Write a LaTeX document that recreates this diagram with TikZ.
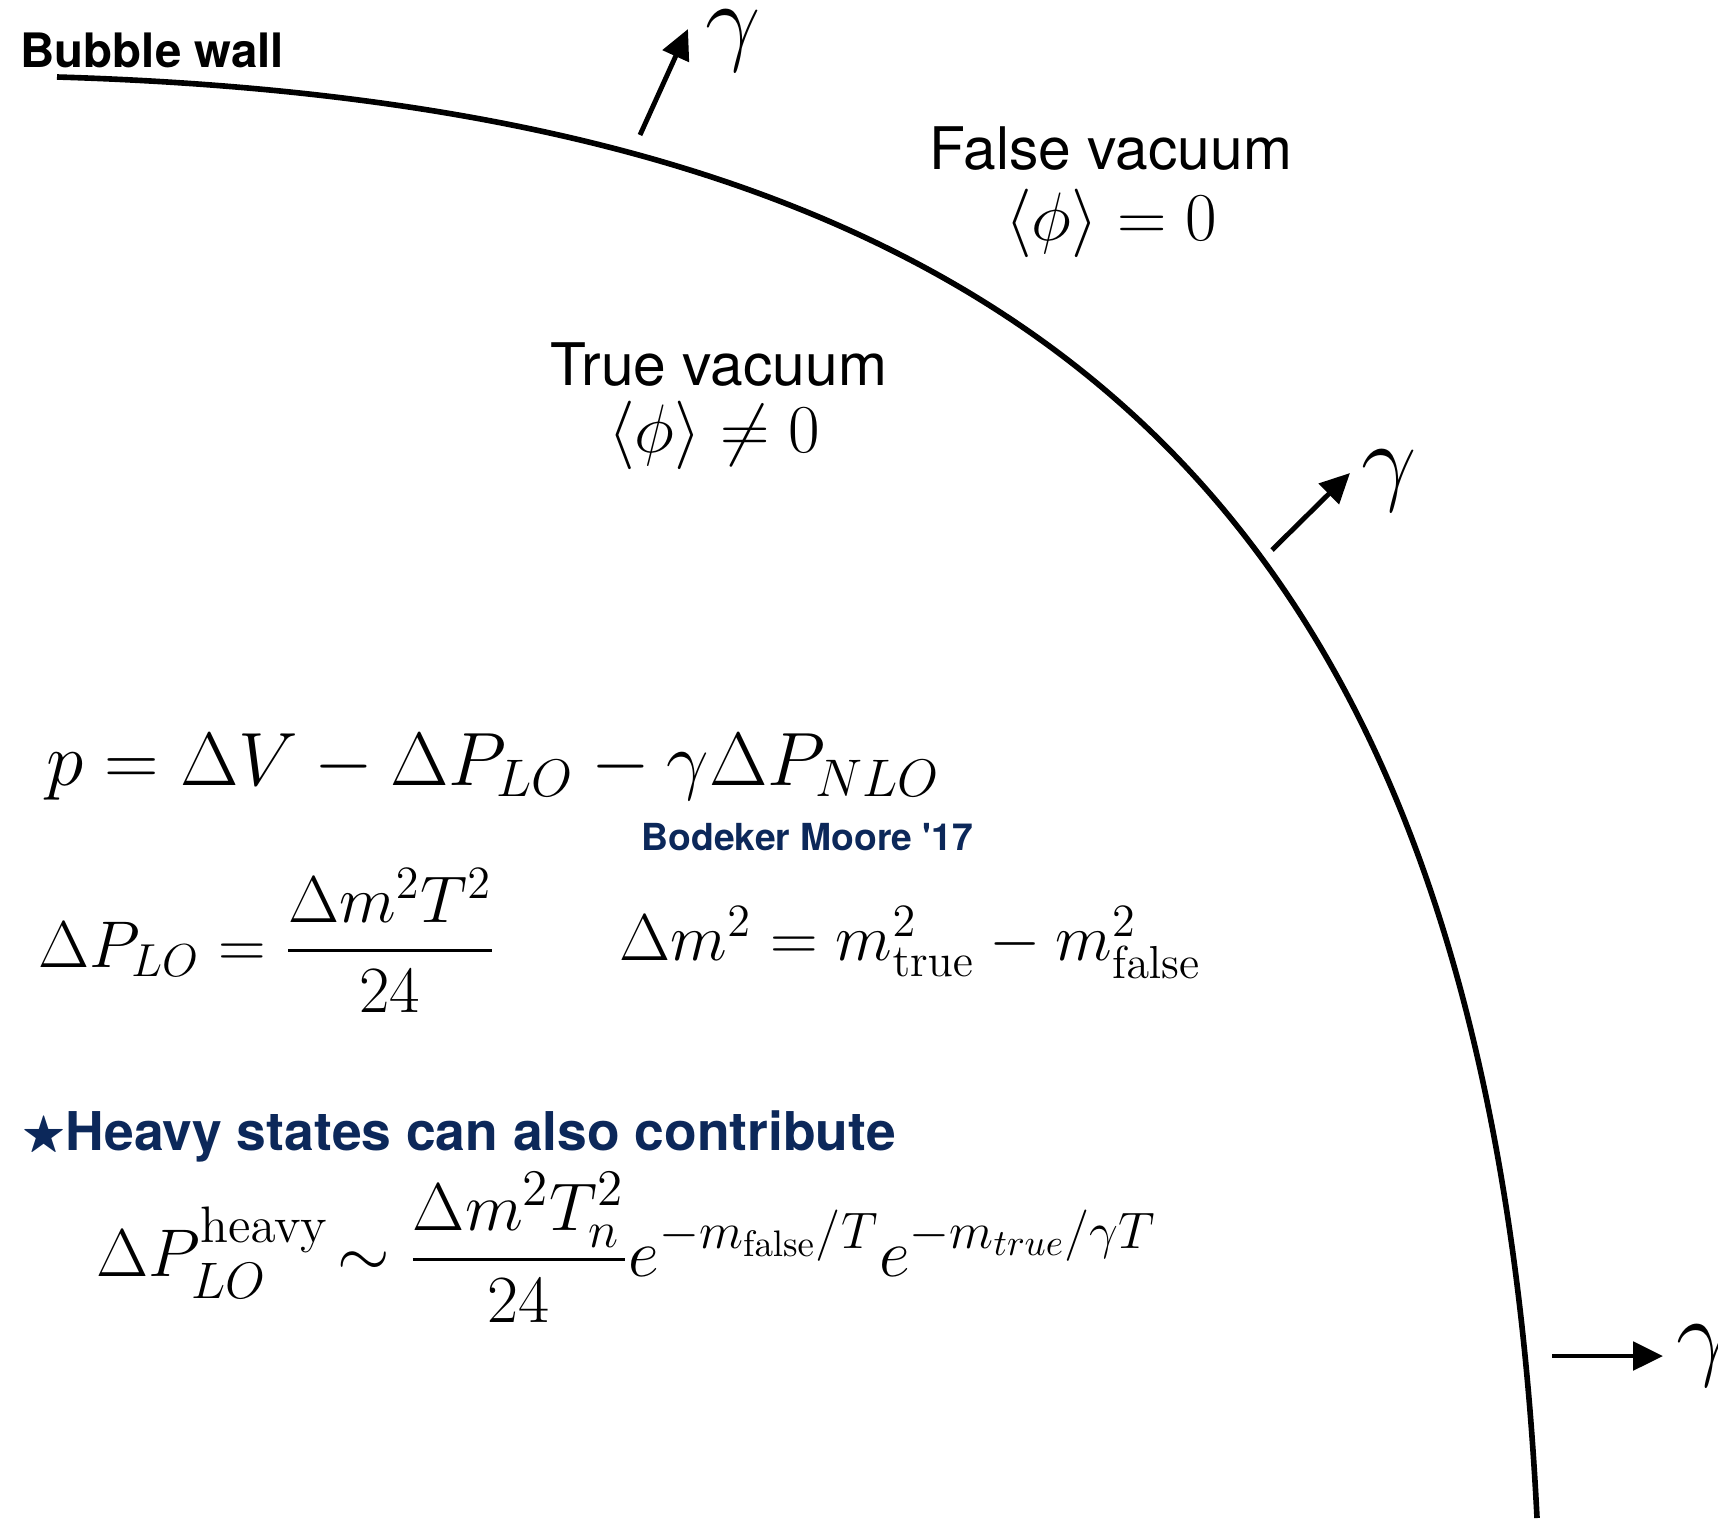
\RequirePackage{fix-cm}
\documentclass[tikz,border=0pt]{standalone}
\usepackage{amsmath,amssymb}
\usepackage[no-math]{fontspec}
\newfontfamily\helv{TeX Gyre Heros}
\usetikzlibrary{arrows.meta, calc}
\definecolor{navy}{RGB}{12,40,90}
\DeclareMathSizes{19.2}{19.2}{14.6}{10.5}
\tikzset{
  wall/.style ={line width=1.6pt},
  arr/.style  ={-{Triangle[length=8.5pt, width=8pt]}, line width=1.4pt},
  head/.style ={inner sep=0pt, font=\helv\bfseries\fontsize{13.5}{16}\selectfont},
  lbl/.style  ={inner sep=0pt, font=\helv\fontsize{16.7}{20}\selectfont},
  vev/.style  ={inner sep=0pt, font=\fontsize{19.5}{24}\selectfont},
  eq/.style   ={inner sep=0pt, font=\fontsize{21.5}{26}\selectfont},
  eqs/.style  ={inner sep=0pt, font=\fontsize{18.8}{23}\selectfont},
  eqh/.style  ={inner sep=0pt, font=\fontsize{19.2}{23}\selectfont},
  gam/.style  ={inner sep=0pt, font=\fontsize{28}{32}\selectfont},
  note/.style ={inner sep=0pt, text=navy, font=\helv\bfseries\fontsize{10.6}{13}\selectfont},
  bullet/.style={inner sep=0pt, text=navy, font=\helv\bfseries\fontsize{15.2}{18}\selectfont}
}

\begin{document}
\begin{tikzpicture}
    \useasboundingbox (0,0) rectangle (17.18,-15.18);
    % the wall
    \node[head, anchor=base west] (title) at (0.20,-0.67) {Bubble wall};
    \draw[wall] (0.57,-0.77) .. controls (10.57,-1.07) and (14.87,-5.18) .. (15.37,-15.18);
    % outgoing arrows
    \coordinate (t1) at (6.40,-1.35);
    \coordinate (h1) at (6.88,-0.29);
    \coordinate (t2) at (12.72,-5.50);
    \coordinate (h2) at (13.50,-4.73);
    \coordinate (t3) at (15.52,-13.56);
    \coordinate (h3) at (16.63,-13.56);
    \node[gam, anchor=base west] (g1) at (7.05,-0.52) {$\gamma$};
    \node[gam, anchor=base west] (g2) at (13.61,-4.92) {$\gamma$};
    \node[gam, anchor=base west] (g3) at (16.76,-13.67) {$\gamma$};
    \draw[arr] (t1) -- (h1);
    \draw[arr] (t2) -- (h2);
    \draw[arr] (t3) -- (h3);
    % the two phases
    \node[lbl, anchor=base] (fv) at (11.11,-1.69) {False vacuum};
    \node[vev, anchor=base] (fvev) at (11.11,-2.40) {$\langle\phi\rangle = 0$};
    \node[lbl, anchor=base] (tv) at (7.19,-3.85) {True vacuum};
    \node[vev, anchor=base] (tvev) at (7.14,-4.52) {$\langle\phi\rangle \neq 0$};
    % pressure
    \node[eq, anchor=base west] (press) at (0.46,-7.85) {$p = \Delta V - \Delta P_{LO} - \gamma\Delta P_{NLO}$};
    \node[note, anchor=base west] (bm) at (6.41,-8.50) {Bodeker Moore '17};
    \node[eqs, anchor=base west] (plo) at (0.38,-9.67) {$\displaystyle \Delta P_{LO} = \frac{\Delta m^2 T^2}{24}$};
    \node[eqs, anchor=base west] (dm) at (6.19,-9.60) {$\Delta m^2 = m^2_{\mathrm{true}} - m^2_{\mathrm{false}}$};
    % heavy states
    \node[bullet, anchor=base west] (hv) at (0.22,-11.50) {\raisebox{0.8pt}{\fontsize{13}{15}\selectfont$\bigstar$}Heavy states can also contribute};
    \node[eqh, anchor=base west] (phv) at (0.96,-12.76) {$\displaystyle \Delta P_{LO}^{\mathrm{heavy}} \mkern-3mu\sim \frac{\Delta m^2 T_n^2}{24} e^{-m_{\mathrm{false}}/T} e^{-m_{true}/\gamma T}$};
\end{tikzpicture}
\end{document}
